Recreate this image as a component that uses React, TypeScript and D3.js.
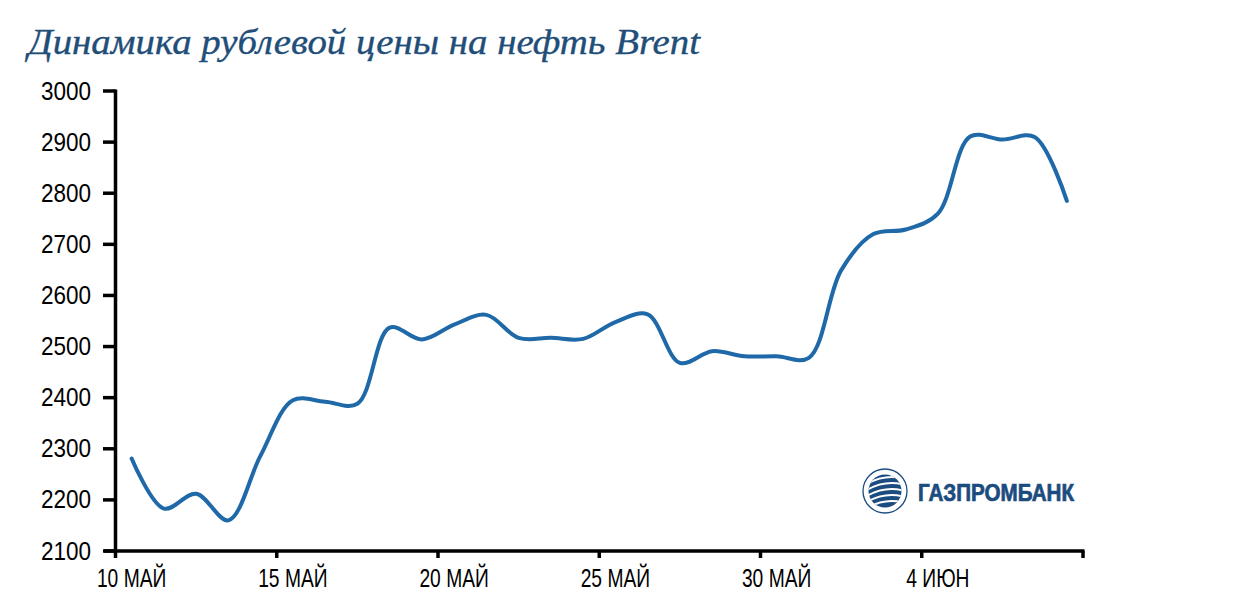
import React from "react";
import * as d3 from "d3";

const title = "Динамика рублевой цены на нефть Brent";
const brandName = "ГАЗПРОМБАНК";

// Daily values from 10 May to 8 June (ruble price of Brent)
const dayLabels = [
  "10.05", "11.05", "12.05", "13.05", "14.05", "15.05", "16.05", "17.05", "18.05", "19.05",
  "20.05", "21.05", "22.05", "23.05", "24.05", "25.05", "26.05", "27.05", "28.05", "29.05",
  "30.05", "31.05", "01.06", "02.06", "03.06", "04.06", "05.06", "06.06", "07.06", "08.06",
];
const prices = [
  2281, 2183, 2212, 2160, 2287, 2395, 2392, 2388, 2537, 2514,
  2543, 2562, 2517, 2517, 2515, 2548, 2563, 2468, 2491, 2481,
  2481, 2478, 2649, 2720, 2729, 2760, 2911, 2905, 2910, 2785,
];

const yTicks = [2100, 2200, 2300, 2400, 2500, 2600, 2700, 2800, 2900, 3000];
const xTickDays = [0, 5, 10, 15, 20, 25, 30];
const xTickLabels = ["10 МАЙ", "15 МАЙ", "20 МАЙ", "25 МАЙ", "30 МАЙ", "4 ИЮН"];

const W = 1259;
const H = 609;

export default function App() {
  const x = d3.scaleLinear().domain([0, dayLabels.length]).range([115.5, 1083]);
  const y = d3.scaleLinear().domain([2100, 3000]).range([551, 91]);

  const line = d3
    .line<number>()
    .x((_, i) => x(i + 0.5))
    .y((d) => y(d))
    .curve(d3.curveCatmullRom.alpha(0.5));

  const axisColor = "#000";
  const lineColor = "#1F69A8";
  const brandColor = "#1B4C80";

  const lx = 885;
  const ly = 491;

  return (
    <svg
      width={W}
      height={H}
      viewBox={`0 0 ${W} ${H}`}
      style={{ position: "absolute", left: 0, top: 0, background: "#fff" }}
    >
      <defs>
        <clipPath id="globeClip">
          <circle cx={lx} cy={ly} r={16.5} />
        </clipPath>
      </defs>

      {/* Title */}
      <text
        x={28}
        y={54}
        fontFamily="'Liberation Serif', 'DejaVu Serif', serif"
        fontStyle="italic"
        fontSize={35}
        fill="#1F4E79"
        stroke="#1F4E79"
        strokeWidth={0.35}
        textLength={672}
        lengthAdjust="spacingAndGlyphs"
      >
        {title}
      </text>

      {/* Y axis */}
      <line x1={x.range()[0]} x2={x.range()[0]} y1={y(3000) - 1.5} y2={y(2100) + 1.5} stroke={axisColor} strokeWidth={3.5} />
      {yTicks.map((t) => (
        <g key={t}>
          <line x1={103} x2={x.range()[0]} y1={y(t)} y2={y(t)} stroke={axisColor} strokeWidth={3.5} />
          <text
            x={0}
            y={0}
            transform={`translate(91,${y(t) + 8.5}) scale(0.9,1)`}
            textAnchor="end"
            fontFamily="'Liberation Sans', Arial, sans-serif"
            fontSize={25}
            fill="#000"
          >
            {t}
          </text>
        </g>
      ))}

      {/* X axis */}
      <line x1={104} x2={x.range()[1] + 1.5} y1={y(2100)} y2={y(2100)} stroke={axisColor} strokeWidth={3.5} />
      {xTickDays.map((d) => (
        <line key={d} x1={x(d)} x2={x(d)} y1={y(2100)} y2={y(2100) + 7} stroke={axisColor} strokeWidth={3.5} />
      ))}
      {xTickLabels.map((lab, i) => (
        <text
          key={lab}
          x={0}
          y={0}
          transform={`translate(${x(xTickDays[i] + 0.5)},587) scale(0.74,1)`}
          textAnchor="middle"
          fontFamily="'Liberation Sans', Arial, sans-serif"
          fontSize={26}
          fill="#000"
        >
          {lab}
        </text>
      ))}

      {/* Series */}
      <path d={line(prices) || ""} fill="none" stroke={lineColor} strokeWidth={4} strokeLinecap="round" strokeLinejoin="round" />

      {/* Logo */}
      <g>
        <circle cx={lx} cy={ly} r={22} fill="#fff" stroke={brandColor} strokeWidth={1.3} />
        <circle cx={lx} cy={ly} r={16.5} fill={brandColor} />
        <g clipPath="url(#globeClip)" fill="none" stroke="#fff" strokeWidth={2}>
          {[-10, -4, 2, 8, 14].map((o) => (
            <path key={o} d={`M ${lx - 20} ${ly + o + 4} Q ${lx} ${ly + o - 8} ${lx + 20} ${ly + o - 2}`} />
          ))}
        </g>
        <text
          x={918}
          y={501}
          fontFamily="'Liberation Sans', Arial, sans-serif"
          fontWeight="bold"
          fontSize={23}
          fill={brandColor}
          stroke={brandColor}
          strokeWidth={0.7}
          textLength={156}
          lengthAdjust="spacingAndGlyphs"
        >
          {brandName}
        </text>
      </g>
    </svg>
  );
}
